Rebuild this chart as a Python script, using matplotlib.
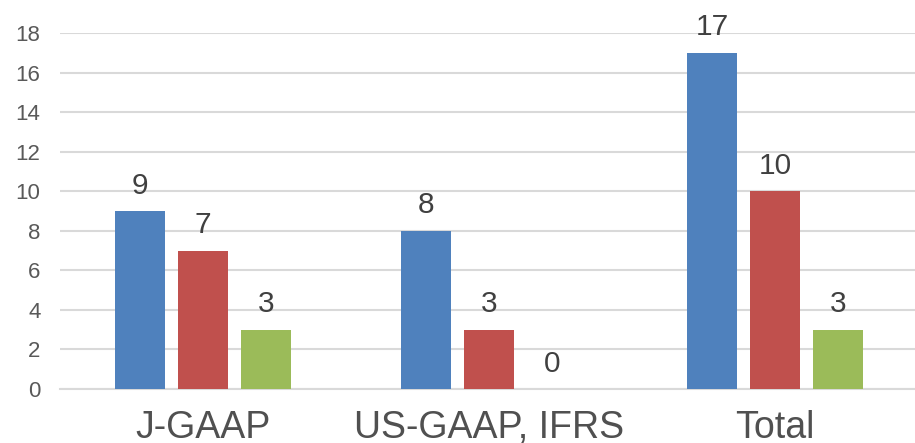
import numpy as np
import matplotlib.pyplot as plt

# Counts per accounting standard
categories = ["J-GAAP", "US-GAAP, IFRS", "Total"]
series_a = [9, 8, 17]
series_b = [7, 3, 10]
series_c = [3, 0, 3]
y_ticks = [0, 2, 4, 6, 8, 10, 12, 14, 16, 18]

COLORS = ["#4f81bd", "#c0504d", "#9bbb59"]
BAR_W = 0.175
STEP = 0.22

plt.rcParams["font.family"] = ["Liberation Sans", "DejaVu Sans"]

fig = plt.figure(figsize=(9.15, 4.43), dpi=100)
ax = fig.add_axes([60 / 915, 54 / 443, 858 / 915, 356 / 443])

x = np.arange(len(categories))
for i, (vals, col) in enumerate(zip([series_a, series_b, series_c], COLORS)):
    pos = x + (i - 1) * STEP
    ax.bar(pos, vals, width=BAR_W, color=col, zorder=3)
    for px, v in zip(pos, vals):
        ax.annotate(str(v), (px, v), xytext=(0, 12.5), textcoords="offset points",
                    ha="center", va="baseline", fontsize=21.5, color="#404040")

ax.set_xlim(-0.5, 2.5)
ax.set_ylim(0, 18)
ax.set_yticks(y_ticks)
ax.set_xticks(x)
ax.set_xticklabels(categories, fontsize=27, color="#505050", va="baseline")
ax.tick_params(axis="x", length=0, pad=35)
ax.tick_params(axis="y", length=0, pad=14, labelsize=16, labelcolor="#595959")
ax.yaxis.grid(True, color="#d9d9d9", linewidth=1.5, zorder=0)
for side in ["top", "right", "left"]:
    ax.spines[side].set_visible(False)
ax.spines["bottom"].set_color("#d9d9d9")
ax.spines["bottom"].set_linewidth(1.5)

fig.savefig("out.png", dpi=100)
